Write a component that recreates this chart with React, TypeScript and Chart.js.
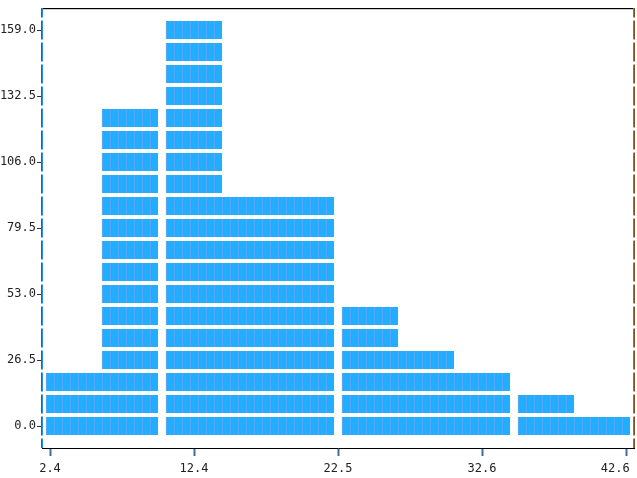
import React, { useEffect, useRef } from "react";
import { Chart, registerables } from "chart.js";

Chart.register(...registerables);

// ---- data ----
const xTickValues = [2.4, 12.45, 22.5, 32.55, 42.6];
const xTickLabels = ["2.4", "12.4", "22.5", "32.6", "42.6   "];
const yTickValues = [0, 26.5, 53, 79.5, 106, 132.5, 159];

// x grid: 73 unit cells whose centres run from 2.4 to 42.6
const xFirst = 2.4;
const xLast = 42.6;
const totalCells = 73;
// each y tick interval holds 3 unit rows
const rowsPerTick = 3;

// bins: first cell index, width in cells, height in unit rows
const binStartCells = [0, 7, 15, 22, 29, 37, 44, 51, 59, 66];
const cellsPerBin = 7;
const binHeights = [3, 15, 19, 11, 11, 6, 4, 3, 2, 1];

const cellW = (xLast - xFirst) / (totalCells - 1);
const rowStep = yTickValues[1] / rowsPerTick;

const FONT = { family: "'DejaVu Sans Mono', monospace", size: 12 };

function buildCells() {
  const cells: { x: [number, number]; y: number }[] = [];
  binStartCells.forEach((start, b) => {
    for (let r = 0; r < binHeights[b]; r++) {
      for (let c = 0; c < cellsPerBin; c++) {
        const cx = xFirst + (start + c) * cellW;
        cells.push({ x: [cx - cellW / 2, cx + cellW / 2], y: r * rowStep });
      }
    }
  });
  return cells;
}

const framePlugin = {
  id: "frame",
  afterDraw(chart: any) {
    const { ctx, chartArea: a, scales } = chart;
    const ys = scales.y;
    ctx.save();
    ctx.lineWidth = 1;
    const line = (x1: number, y1: number, x2: number, y2: number, c: string) => {
      ctx.strokeStyle = c;
      ctx.beginPath();
      ctx.moveTo(x1, y1);
      ctx.lineTo(x2, y2);
      ctx.stroke();
    };
    line(a.left, a.top + 0.5, a.right, a.top + 0.5, "#000");
    line(a.left, a.top + 1.5, a.right, a.top + 1.5, "#cfcfcf");
    const rMin = Math.floor(ys.min / rowStep) - 1;
    const rMax = Math.ceil(ys.max / rowStep) + 1;
    for (let r = rMin; r <= rMax; r++) {
      let y0 = ys.getPixelForValue((r + 0.5) * rowStep) + 1.5;
      let y1 = ys.getPixelForValue((r - 0.5) * rowStep) - 1.5;
      y0 = Math.max(y0, a.top);
      y1 = Math.min(y1, a.bottom);
      if (y1 <= y0) continue;
      line(a.left - 0.5, y0, a.left - 0.5, y1, "#7a5226");
      line(a.left + 0.5, y0, a.left + 0.5, y1, "#2a8ee0");
      line(a.right - 0.5, y0, a.right - 0.5, y1, "#2a8ee0");
      line(a.right + 0.5, y0, a.right + 0.5, y1, "#7a5226");
    }
    ctx.restore();
  },
};

export default function App() {
  const ref = useRef<HTMLCanvasElement | null>(null);

  useEffect(() => {
    if (!ref.current) return;
    const chart = new Chart(ref.current, {
      type: "bar",
      data: {
        datasets: [
          {
            data: buildCells() as any,
            backgroundColor: "#22AEFF",
            borderColor: "#72A4F2",
            borderWidth: { left: 1, right: 0, top: 0, bottom: 0 } as any,
            borderSkipped: false,
            barThickness: 18,
          },
        ],
      },
      options: {
        indexAxis: "y",
        animation: false,
        responsive: false,
        layout: { padding: { top: 8, right: 3, left: 0, bottom: 0 } },
        plugins: { legend: { display: false }, tooltip: { enabled: false } },
        scales: {
          x: {
            type: "linear",
            position: "bottom",
            min: xFirst - cellW,
            max: xLast + cellW,
            afterBuildTicks: (s: any) => {
              s.ticks = xTickValues.map((v) => ({ value: v }));
            },
            afterFit: (s: any) => {
              s.height = 30;
              s.paddingLeft = 0;
              s.paddingRight = 0;
            },
            ticks: {
              autoSkip: false,
              maxRotation: 0,
              padding: 6,
              color: "#222",
              font: FONT,
              callback: (_v: any, i: number) => xTickLabels[i],
            },
            grid: {
              drawOnChartArea: false,
              drawTicks: true,
              tickLength: 8,
              tickColor: "#3f6e9c",
              tickWidth: 2,
            },
            border: { display: true, color: "#000", width: 1 },
          },
          y: {
            type: "linear",
            position: "left",
            offset: false,
            min: -rowStep,
            max: yTickValues[yTickValues.length - 1] + rowStep,
            afterBuildTicks: (s: any) => {
              s.ticks = yTickValues.map((v) => ({ value: v }));
            },
            afterFit: (s: any) => {
              s.width = 42;
              s.paddingTop = 0;
              s.paddingBottom = 0;
            },
            ticks: {
              autoSkip: false,
              padding: 1,
              color: "#222",
              font: FONT,
              callback: (v: any) => Number(v).toFixed(1),
            },
            grid: {
              offset: false,
              drawOnChartArea: false,
              drawTicks: true,
              tickLength: 5,
              tickColor: "#333",
              tickWidth: 1,
            },
            border: { display: false },
          },
        },
      },
      plugins: [framePlugin],
    });
    return () => chart.destroy();
  }, []);

  return (
    <div style={{ position: "absolute", left: 0, top: 0, width: 637, height: 478, background: "#fff" }}>
      <canvas ref={ref} width={637} height={478} style={{ display: "block" }} />
    </div>
  );
}
